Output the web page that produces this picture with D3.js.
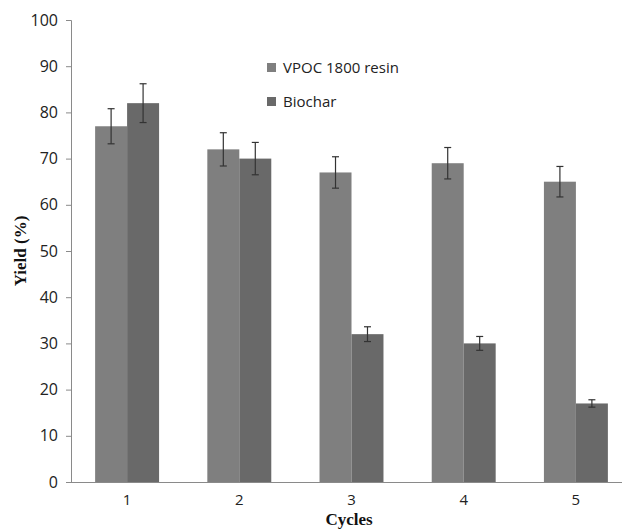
<!DOCTYPE html>
<html>
<head>
<meta charset="utf-8">
<script src="https://cdn.jsdelivr.net/npm/d3@7"></script>
<style>
  body { margin: 0; background: #fff; }
  .tick text { font-family: "Open Sans", "Liberation Sans", sans-serif; font-size: 16px; fill: #222; }
  .x-axis .tick text { font-size: 15px; }
  .axis-title { font-family: "Liberation Serif", serif; font-weight: bold; font-size: 17px; fill: #111; }
  .legend text { font-family: "Open Sans", "Liberation Sans", sans-serif; font-size: 15px; fill: #222; }
</style>
</head>
<body>
<svg id="chart" width="622" height="531"></svg>
<script>
const cycles = ["1", "2", "3", "4", "5"];
const seriesNames = ["VPOC 1800 resin", "Biochar"];
const resinYield = [77, 72, 67, 69, 65];
const resinErr = [3.8, 3.6, 3.4, 3.4, 3.3];
const biocharYield = [82, 70, 32, 30, 17];
const biocharErr = [4.2, 3.5, 1.6, 1.5, 0.8];
const yTicks = [0, 10, 20, 30, 40, 50, 60, 70, 80, 90, 100];

const colors = ["#7f7f7f", "#696969"];
const svg = d3.select("#chart");

const x0 = 71, x1 = 632, yTop = 20, yBot = 482;

const x = d3.scaleBand().domain(cycles).range([x0, x1]).paddingInner(0.43).paddingOuter(0.215);
const xSub = d3.scaleBand().domain(seriesNames).range([0, x.bandwidth()]);
const y = d3.scaleLinear().domain([0, 100]).range([yBot, yTop]);

// y axis
const yAxis = svg.append("g")
  .attr("transform", `translate(${x0},0)`)
  .call(d3.axisLeft(y).tickValues(yTicks).tickSize(5).tickPadding(8));
yAxis.selectAll("line, path").attr("stroke", "#8a8a8a");

// bars
const data = cycles.map((c, i) => ({
  cycle: c,
  values: [
    { name: seriesNames[0], v: resinYield[i], e: resinErr[i] },
    { name: seriesNames[1], v: biocharYield[i], e: biocharErr[i] }
  ]
}));

const groups = svg.append("g").selectAll("g").data(data).join("g")
  .attr("transform", d => `translate(${x(d.cycle)},0)`);

groups.selectAll("rect").data(d => d.values).join("rect")
  .attr("x", d => xSub(d.name))
  .attr("y", d => y(d.v))
  .attr("width", xSub.bandwidth())
  .attr("height", d => y(0) - y(d.v))
  .attr("fill", (d, i) => colors[i]);

// error bars
const err = groups.selectAll("g.err").data(d => d.values).join("g").attr("class", "err")
  .attr("stroke", "#333").attr("stroke-width", 1.2);
err.append("line")
  .attr("x1", d => xSub(d.name) + xSub.bandwidth() / 2)
  .attr("x2", d => xSub(d.name) + xSub.bandwidth() / 2)
  .attr("y1", d => y(d.v + d.e))
  .attr("y2", d => y(d.v - d.e));
[1, -1].forEach(s => {
  err.append("line")
    .attr("x1", d => xSub(d.name) + xSub.bandwidth() / 2 - 3.5)
    .attr("x2", d => xSub(d.name) + xSub.bandwidth() / 2 + 3.5)
    .attr("y1", d => y(d.v + s * d.e))
    .attr("y2", d => y(d.v + s * d.e));
});

// x axis
const xAxis = svg.append("g")
  .attr("class", "x-axis")
  .attr("transform", `translate(0,${yBot})`)
  .call(d3.axisBottom(x).tickSize(0).tickPadding(12));
xAxis.select("path").attr("stroke", "#8a8a8a").attr("d", `M${x0},0.5H622`);

// axis titles
svg.append("text").attr("class", "axis-title")
  .attr("transform", `translate(26,${(yTop + yBot) / 2}) rotate(-90)`)
  .attr("text-anchor", "middle")
  .text("Yield (%)");
svg.append("text").attr("class", "axis-title")
  .attr("x", 349).attr("y", 525)
  .attr("text-anchor", "middle")
  .text("Cycles");

// legend
const legend = svg.append("g").attr("class", "legend")
  .attr("transform", "translate(267,63)");
const li = legend.selectAll("g").data(seriesNames).join("g")
  .attr("transform", (d, i) => `translate(0,${i * 34})`);
li.append("rect").attr("width", 9).attr("height", 9).attr("fill", (d, i) => colors[i]);
li.append("text").attr("x", 16).attr("y", 10).text(d => d);
</script>
</body>
</html>
